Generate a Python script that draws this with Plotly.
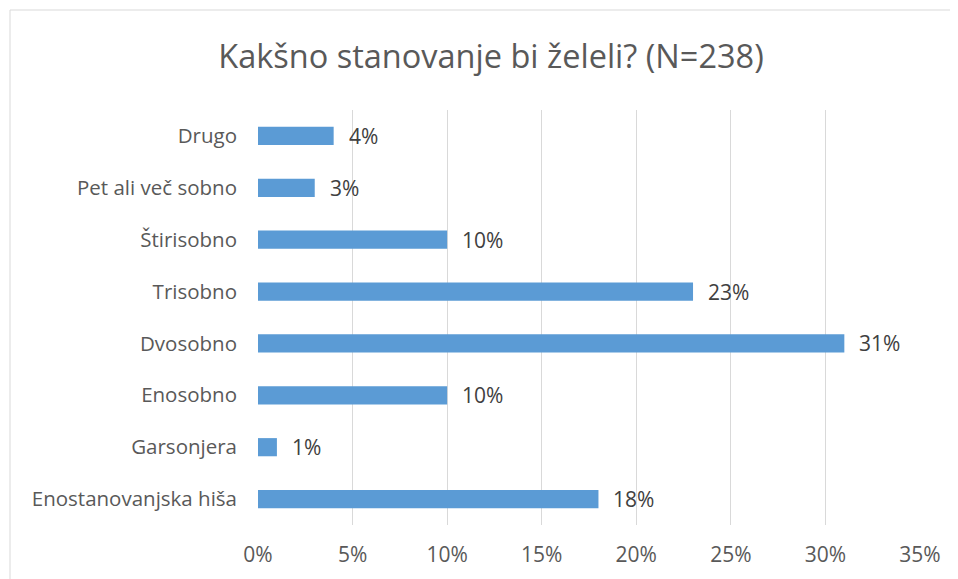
import plotly.graph_objects as go

categories = ["Enostanovanjska hiša", "Garsonjera", "Enosobno", "Dvosobno",
              "Trisobno", "Štirisobno", "Pet ali več sobno", "Drugo"]
values = [18, 1, 10, 31, 23, 10, 3, 4]
labels = ["18%", "1%", "10%", "31%", "23%", "10%", "3%", "4%"]
tick_vals = [0, 5, 10, 15, 20, 25, 30, 35]
tick_text = ["0%", "5%", "10%", "15%", "20%", "25%", "30%", "35%"]

# page body has an 8px margin, so the figure is sized/offset to compensate
OFF = 8
W, H = 958 - OFF, 579 - OFF
L, R, T, B = 258 - OFF, 38, 110 - OFF, 54
FONT = "Open Sans"
GREY = "#595959"

fig = go.Figure()
fig.add_trace(go.Bar(
    y=categories, x=values, orientation="h",
    marker=dict(color="#5B9BD5", line=dict(width=0)),
    width=0.35, hoverinfo="skip",
))

for c, v, t in zip(categories, values, labels):
    fig.add_annotation(x=v, y=c, text=t, showarrow=False, xanchor="left",
                       xshift=13, font=dict(family=FONT, size=21, color="#404040"))

pw = W - L - R
ph = H - T - B
fig.add_shape(type="rect", xref="paper", yref="paper",
              x0=(10 - OFF - L) / pw, x1=(W + 20 - L) / pw,
              y0=-(H + 20 - T - ph) / ph, y1=1 + (T - (10 - OFF)) / ph,
              line=dict(color="#D9D9D9", width=1), fillcolor="rgba(0,0,0,0)",
              layer="below")

fig.update_layout(
    width=W, height=H,
    margin=dict(l=L, r=R, t=T, b=B),
    paper_bgcolor="white", plot_bgcolor="white",
    showlegend=False,
    title=dict(text="Kakšno stanovanje bi želeli? (N=238)",
               x=(491 - OFF) / W, xanchor="center", y=1 - (57 - OFF) / H, yanchor="middle",
               font=dict(family=FONT, size=32.5, color=GREY)),
    xaxis=dict(range=[0, 35], tickvals=tick_vals, ticktext=tick_text,
               showgrid=True, gridcolor="#D9D9D9", gridwidth=1,
               zeroline=False, showline=False, ticks="",
               ticklabelstandoff=15,
               tickfont=dict(family=FONT, size=21, color=GREY)),
    yaxis=dict(categoryorder="array", categoryarray=categories,
               showgrid=False, zeroline=False, showline=False, ticks="",
               ticklabelstandoff=20,
               tickfont=dict(family=FONT, size=20.5, color=GREY)),
)

fig.write_html("out.html")
